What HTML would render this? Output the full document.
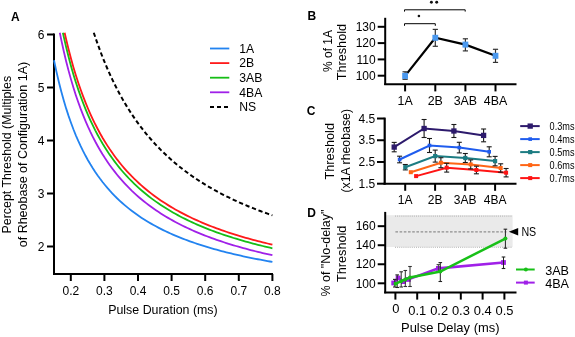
<!DOCTYPE html>
<html><head><meta charset="utf-8"><style>
html,body{margin:0;padding:0;background:#fff;width:575px;height:337px;overflow:hidden}
svg{display:block;will-change:transform}
text{font-family:"Liberation Sans", sans-serif}
</style></head><body>
<svg width="575" height="337" viewBox="0 0 575 337">
<rect width="575" height="337" fill="#fff"/>
<text x="10.90" y="20.60" font-size="12" text-anchor="start" font-weight="bold" fill="#000">A</text>
<line x1="54.00" y1="33.50" x2="54.00" y2="275.00" stroke="#000" stroke-width="2"/>
<line x1="53.00" y1="274.00" x2="273.00" y2="274.00" stroke="#000" stroke-width="2"/>
<line x1="47.00" y1="34.50" x2="54.00" y2="34.50" stroke="#000" stroke-width="2"/>
<text x="44.50" y="38.70" font-size="12" text-anchor="end" font-weight="normal" fill="#000">6</text>
<line x1="47.00" y1="87.50" x2="54.00" y2="87.50" stroke="#000" stroke-width="2"/>
<text x="44.50" y="91.70" font-size="12" text-anchor="end" font-weight="normal" fill="#000">5</text>
<line x1="47.00" y1="140.50" x2="54.00" y2="140.50" stroke="#000" stroke-width="2"/>
<text x="44.50" y="144.70" font-size="12" text-anchor="end" font-weight="normal" fill="#000">4</text>
<line x1="47.00" y1="193.50" x2="54.00" y2="193.50" stroke="#000" stroke-width="2"/>
<text x="44.50" y="197.70" font-size="12" text-anchor="end" font-weight="normal" fill="#000">3</text>
<line x1="47.00" y1="246.50" x2="54.00" y2="246.50" stroke="#000" stroke-width="2"/>
<text x="44.50" y="250.70" font-size="12" text-anchor="end" font-weight="normal" fill="#000">2</text>
<line x1="70.80" y1="274.00" x2="70.80" y2="281.00" stroke="#000" stroke-width="2"/>
<text x="70.80" y="294.60" font-size="12" text-anchor="middle" font-weight="normal" fill="#000">0.2</text>
<line x1="104.40" y1="274.00" x2="104.40" y2="281.00" stroke="#000" stroke-width="2"/>
<text x="104.40" y="294.60" font-size="12" text-anchor="middle" font-weight="normal" fill="#000">0.3</text>
<line x1="138.00" y1="274.00" x2="138.00" y2="281.00" stroke="#000" stroke-width="2"/>
<text x="138.00" y="294.60" font-size="12" text-anchor="middle" font-weight="normal" fill="#000">0.4</text>
<line x1="171.60" y1="274.00" x2="171.60" y2="281.00" stroke="#000" stroke-width="2"/>
<text x="171.60" y="294.60" font-size="12" text-anchor="middle" font-weight="normal" fill="#000">0.5</text>
<line x1="205.20" y1="274.00" x2="205.20" y2="281.00" stroke="#000" stroke-width="2"/>
<text x="205.20" y="294.60" font-size="12" text-anchor="middle" font-weight="normal" fill="#000">0.6</text>
<line x1="238.80" y1="274.00" x2="238.80" y2="281.00" stroke="#000" stroke-width="2"/>
<text x="238.80" y="294.60" font-size="12" text-anchor="middle" font-weight="normal" fill="#000">0.7</text>
<line x1="272.40" y1="274.00" x2="272.40" y2="281.00" stroke="#000" stroke-width="2"/>
<text x="272.40" y="294.60" font-size="12" text-anchor="middle" font-weight="normal" fill="#000">0.8</text>
<text x="108.20" y="314.40" font-size="12" text-anchor="start" font-weight="normal" fill="#000" textLength="109.5" lengthAdjust="spacingAndGlyphs">Pulse Duration (ms)</text>
<text x="11.20" y="154.65" font-size="12" text-anchor="middle" font-weight="normal" fill="#000" transform="rotate(-90 11.20 154.65)" textLength="157.6" lengthAdjust="spacingAndGlyphs">Percept Threshold (Multiples</text>
<text x="26.60" y="154.55" font-size="12" text-anchor="middle" font-weight="normal" fill="#000" transform="rotate(-90 26.60 154.55)" textLength="185.4" lengthAdjust="spacingAndGlyphs">of Rheobase of Configuration 1A)</text>
<path d="M54.00,60.24 L56.43,71.64 L58.85,82.04 L61.28,91.57 L63.71,100.33 L66.13,108.40 L68.56,115.88 L70.99,122.81 L73.41,129.26 L75.84,135.28 L78.27,140.91 L80.69,146.18 L83.12,151.14 L85.55,155.80 L87.97,160.19 L90.40,164.33 L92.83,168.25 L95.25,171.96 L97.68,175.48 L100.11,178.83 L102.53,182.01 L104.96,185.03 L107.39,187.92 L109.81,190.67 L112.24,193.30 L114.67,195.82 L117.09,198.23 L119.52,200.54 L121.95,202.75 L124.37,204.87 L126.80,206.91 L129.23,208.88 L131.65,210.76 L134.08,212.58 L136.51,214.33 L138.93,216.02 L141.36,217.65 L143.79,219.22 L146.21,220.74 L148.64,222.20 L151.07,223.62 L153.49,225.00 L155.92,226.33 L158.35,227.61 L160.77,228.86 L163.20,230.07 L165.63,231.25 L168.05,232.39 L170.48,233.49 L172.91,234.57 L175.33,235.61 L177.76,236.63 L180.19,237.61 L182.61,238.57 L185.04,239.51 L187.47,240.42 L189.89,241.30 L192.32,242.17 L194.75,243.01 L197.17,243.83 L199.60,244.63 L202.03,245.41 L204.45,246.17 L206.88,246.92 L209.31,247.64 L211.73,248.35 L214.16,249.04 L216.59,249.72 L219.01,250.38 L221.44,251.03 L223.87,251.66 L226.29,252.28 L228.72,252.89 L231.15,253.48 L233.57,254.06 L236.00,254.63 L238.43,255.18 L240.85,255.73 L243.28,256.26 L245.71,256.79 L248.13,257.30 L250.56,257.80 L252.99,258.29 L255.41,258.78 L257.84,259.25 L260.27,259.72 L262.69,260.17 L265.12,260.62 L267.55,261.06 L269.97,261.49 L272.40,261.92" fill="none" stroke="#2283F0" stroke-width="1.8"/>
<path d="M59.81,32.70 L61.28,39.89 L63.71,50.96 L66.13,61.17 L68.56,70.61 L70.99,79.38 L73.41,87.54 L75.84,95.15 L78.27,102.26 L80.69,108.93 L83.12,115.19 L85.55,121.08 L87.97,126.63 L90.40,131.87 L92.83,136.82 L95.25,141.51 L97.68,145.96 L100.11,150.19 L102.53,154.21 L104.96,158.04 L107.39,161.68 L109.81,165.16 L112.24,168.49 L114.67,171.67 L117.09,174.71 L119.52,177.63 L121.95,180.43 L124.37,183.11 L126.80,185.69 L129.23,188.17 L131.65,190.56 L134.08,192.85 L136.51,195.07 L138.93,197.20 L141.36,199.26 L143.79,201.25 L146.21,203.16 L148.64,205.02 L151.07,206.81 L153.49,208.55 L155.92,210.23 L158.35,211.86 L160.77,213.44 L163.20,214.97 L165.63,216.45 L168.05,217.89 L170.48,219.29 L172.91,220.65 L175.33,221.97 L177.76,223.25 L180.19,224.50 L182.61,225.71 L185.04,226.89 L187.47,228.04 L189.89,229.16 L192.32,230.26 L194.75,231.32 L197.17,232.36 L199.60,233.37 L202.03,234.35 L204.45,235.32 L206.88,236.26 L209.31,237.17 L211.73,238.07 L214.16,238.95 L216.59,239.80 L219.01,240.64 L221.44,241.46 L223.87,242.26 L226.29,243.04 L228.72,243.80 L231.15,244.55 L233.57,245.29 L236.00,246.00 L238.43,246.71 L240.85,247.40 L243.28,248.07 L245.71,248.73 L248.13,249.38 L250.56,250.02 L252.99,250.64 L255.41,251.25 L257.84,251.85 L260.27,252.44 L262.69,253.01 L265.12,253.58 L267.55,254.14 L269.97,254.68 L272.40,255.22" fill="none" stroke="#A020E8" stroke-width="1.8"/>
<path d="M62.89,32.70 L63.71,36.44 L66.13,47.03 L68.56,56.82 L70.99,65.92 L73.41,74.38 L75.84,82.27 L78.27,89.65 L80.69,96.56 L83.12,103.05 L85.55,109.16 L87.97,114.92 L90.40,120.35 L92.83,125.49 L95.25,130.36 L97.68,134.97 L100.11,139.36 L102.53,143.52 L104.96,147.49 L107.39,151.28 L109.81,154.89 L112.24,158.34 L114.67,161.64 L117.09,164.79 L119.52,167.82 L121.95,170.72 L124.37,173.50 L126.80,176.18 L129.23,178.75 L131.65,181.22 L134.08,183.61 L136.51,185.90 L138.93,188.11 L141.36,190.25 L143.79,192.31 L146.21,194.30 L148.64,196.22 L151.07,198.09 L153.49,199.89 L155.92,201.63 L158.35,203.32 L160.77,204.95 L163.20,206.54 L165.63,208.08 L168.05,209.57 L170.48,211.02 L172.91,212.43 L175.33,213.80 L177.76,215.13 L180.19,216.43 L182.61,217.69 L185.04,218.91 L187.47,220.10 L189.89,221.27 L192.32,222.40 L194.75,223.50 L197.17,224.58 L199.60,225.63 L202.03,226.65 L204.45,227.65 L206.88,228.62 L209.31,229.57 L211.73,230.50 L214.16,231.41 L216.59,232.30 L219.01,233.17 L221.44,234.02 L223.87,234.84 L226.29,235.66 L228.72,236.45 L231.15,237.23 L233.57,237.99 L236.00,238.73 L238.43,239.46 L240.85,240.18 L243.28,240.88 L245.71,241.56 L248.13,242.23 L250.56,242.89 L252.99,243.54 L255.41,244.17 L257.84,244.79 L260.27,245.40 L262.69,246.00 L265.12,246.59 L267.55,247.17 L269.97,247.73 L272.40,248.29" fill="none" stroke="#16BE16" stroke-width="1.8"/>
<path d="M64.64,32.70 L66.13,39.23 L68.56,49.23 L70.99,58.51 L73.41,67.14 L75.84,75.20 L78.27,82.73 L80.69,89.79 L83.12,96.41 L85.55,102.65 L87.97,108.52 L90.40,114.07 L92.83,119.31 L95.25,124.28 L97.68,128.99 L100.11,133.47 L102.53,137.72 L104.96,141.77 L107.39,145.63 L109.81,149.32 L112.24,152.84 L114.67,156.20 L117.09,159.43 L119.52,162.51 L121.95,165.48 L124.37,168.32 L126.80,171.05 L129.23,173.67 L131.65,176.20 L134.08,178.63 L136.51,180.97 L138.93,183.23 L141.36,185.41 L143.79,187.51 L146.21,189.54 L148.64,191.51 L151.07,193.41 L153.49,195.24 L155.92,197.02 L158.35,198.75 L160.77,200.42 L163.20,202.04 L165.63,203.61 L168.05,205.13 L170.48,206.61 L172.91,208.05 L175.33,209.45 L177.76,210.80 L180.19,212.13 L182.61,213.41 L185.04,214.66 L187.47,215.88 L189.89,217.06 L192.32,218.22 L194.75,219.35 L197.17,220.44 L199.60,221.51 L202.03,222.56 L204.45,223.58 L206.88,224.57 L209.31,225.54 L211.73,226.49 L214.16,227.42 L216.59,228.33 L219.01,229.21 L221.44,230.08 L223.87,230.92 L226.29,231.75 L228.72,232.56 L231.15,233.35 L233.57,234.13 L236.00,234.89 L238.43,235.64 L240.85,236.36 L243.28,237.08 L245.71,237.78 L248.13,238.47 L250.56,239.14 L252.99,239.80 L255.41,240.44 L257.84,241.08 L260.27,241.70 L262.69,242.31 L265.12,242.91 L267.55,243.50 L269.97,244.08 L272.40,244.65" fill="none" stroke="#FF1A1A" stroke-width="1.8"/>
<path d="M93.78,32.70 L95.25,37.12 L97.68,44.10 L100.11,50.72 L102.53,57.02 L104.96,63.02 L107.39,68.74 L109.81,74.20 L112.24,79.41 L114.67,84.39 L117.09,89.17 L119.52,93.74 L121.95,98.12 L124.37,102.33 L126.80,106.38 L129.23,110.26 L131.65,114.00 L134.08,117.60 L136.51,121.07 L138.93,124.41 L141.36,127.64 L143.79,130.76 L146.21,133.76 L148.64,136.67 L151.07,139.49 L153.49,142.21 L155.92,144.84 L158.35,147.39 L160.77,149.87 L163.20,152.26 L165.63,154.59 L168.05,156.85 L170.48,159.04 L172.91,161.17 L175.33,163.24 L177.76,165.25 L180.19,167.21 L182.61,169.11 L185.04,170.96 L187.47,172.76 L189.89,174.52 L192.32,176.23 L194.75,177.90 L197.17,179.52 L199.60,181.11 L202.03,182.66 L204.45,184.17 L206.88,185.64 L209.31,187.08 L211.73,188.48 L214.16,189.85 L216.59,191.20 L219.01,192.51 L221.44,193.79 L223.87,195.04 L226.29,196.27 L228.72,197.47 L231.15,198.64 L233.57,199.79 L236.00,200.92 L238.43,202.02 L240.85,203.10 L243.28,204.16 L245.71,205.19 L248.13,206.21 L250.56,207.21 L252.99,208.18 L255.41,209.14 L257.84,210.08 L260.27,211.00 L262.69,211.91 L265.12,212.80 L267.55,213.67 L269.97,214.52 L272.40,215.36" fill="none" stroke="#000" stroke-width="2" stroke-dasharray="4.3 2.7"/>
<line x1="210.00" y1="48.50" x2="229.30" y2="48.50" stroke="#2283F0" stroke-width="1.8"/>
<text x="239.30" y="52.70" font-size="12.2" text-anchor="start" font-weight="normal" fill="#000">1A</text>
<line x1="210.00" y1="63.10" x2="229.30" y2="63.10" stroke="#FF1A1A" stroke-width="1.8"/>
<text x="239.30" y="67.30" font-size="12.2" text-anchor="start" font-weight="normal" fill="#000">2B</text>
<line x1="210.00" y1="77.70" x2="229.30" y2="77.70" stroke="#16BE16" stroke-width="1.8"/>
<text x="239.30" y="81.90" font-size="12.2" text-anchor="start" font-weight="normal" fill="#000">3AB</text>
<line x1="210.00" y1="92.30" x2="229.30" y2="92.30" stroke="#A020E8" stroke-width="1.8"/>
<text x="239.30" y="96.50" font-size="12.2" text-anchor="start" font-weight="normal" fill="#000">4BA</text>
<line x1="210.00" y1="106.90" x2="229.30" y2="106.90" stroke="#000" stroke-width="2" stroke-dasharray="4 3"/>
<text x="239.30" y="111.10" font-size="12.2" text-anchor="start" font-weight="normal" fill="#000">NS</text>
<text x="307.40" y="20.30" font-size="12" text-anchor="start" font-weight="bold" fill="#000">B</text>
<line x1="385.20" y1="17.80" x2="385.20" y2="85.00" stroke="#000" stroke-width="2"/>
<line x1="384.20" y1="84.20" x2="516.50" y2="84.20" stroke="#000" stroke-width="2"/>
<line x1="377.70" y1="26.80" x2="385.20" y2="26.80" stroke="#000" stroke-width="2"/>
<text x="375.70" y="31.00" font-size="12" text-anchor="end" font-weight="normal" fill="#000">130</text>
<line x1="377.70" y1="43.10" x2="385.20" y2="43.10" stroke="#000" stroke-width="2"/>
<text x="375.70" y="47.30" font-size="12" text-anchor="end" font-weight="normal" fill="#000">120</text>
<line x1="377.70" y1="59.40" x2="385.20" y2="59.40" stroke="#000" stroke-width="2"/>
<text x="375.70" y="63.60" font-size="12" text-anchor="end" font-weight="normal" fill="#000">110</text>
<line x1="377.70" y1="75.70" x2="385.20" y2="75.70" stroke="#000" stroke-width="2"/>
<text x="375.70" y="79.90" font-size="12" text-anchor="end" font-weight="normal" fill="#000">100</text>
<line x1="405.10" y1="84.20" x2="405.10" y2="91.40" stroke="#000" stroke-width="2"/>
<text x="405.10" y="104.60" font-size="12.4" text-anchor="middle" font-weight="normal" fill="#000">1A</text>
<line x1="435.30" y1="84.20" x2="435.30" y2="91.40" stroke="#000" stroke-width="2"/>
<text x="435.30" y="104.60" font-size="12.4" text-anchor="middle" font-weight="normal" fill="#000">2B</text>
<line x1="465.40" y1="84.20" x2="465.40" y2="91.40" stroke="#000" stroke-width="2"/>
<text x="465.40" y="104.60" font-size="12.4" text-anchor="middle" font-weight="normal" fill="#000">3AB</text>
<line x1="495.50" y1="84.20" x2="495.50" y2="91.40" stroke="#000" stroke-width="2"/>
<text x="495.50" y="104.60" font-size="12.4" text-anchor="middle" font-weight="normal" fill="#000">4BA</text>
<text x="332.20" y="51.00" font-size="12" text-anchor="middle" font-weight="normal" fill="#000" transform="rotate(-90 332.20 51.00)">% of 1A</text>
<text x="346.30" y="52.10" font-size="12" text-anchor="middle" font-weight="normal" fill="#000" transform="rotate(-90 346.30 52.10)" textLength="56.5" lengthAdjust="spacingAndGlyphs">Threshold</text>
<path d="M404.5,11.6 L404.5,9.8 L465.2,9.8 L465.2,11.6" fill="none" stroke="#000" stroke-width="1"/>
<path d="M404.5,25.8 L404.5,23.7 L435.3,23.7 L435.3,25.8" fill="none" stroke="#000" stroke-width="1"/>
<circle cx="431.4" cy="2.2" r="1.45" fill="#111"/><circle cx="436.7" cy="2.2" r="1.45" fill="#111"/><circle cx="418.9" cy="16" r="1.3" fill="#111"/>
<polyline points="405.1,75.9 435.3,37.8 465.4,44.6 495.5,55.8" fill="none" stroke="#000" stroke-width="2.2"/>
<line x1="405.10" y1="71.80" x2="405.10" y2="79.30" stroke="#333" stroke-width="1.2"/>
<line x1="402.50" y1="71.80" x2="407.70" y2="71.80" stroke="#333" stroke-width="1.2"/>
<line x1="402.50" y1="79.30" x2="407.70" y2="79.30" stroke="#333" stroke-width="1.2"/>
<line x1="435.30" y1="29.40" x2="435.30" y2="46.30" stroke="#333" stroke-width="1.2"/>
<line x1="432.70" y1="29.40" x2="437.90" y2="29.40" stroke="#333" stroke-width="1.2"/>
<line x1="432.70" y1="46.30" x2="437.90" y2="46.30" stroke="#333" stroke-width="1.2"/>
<line x1="465.40" y1="38.80" x2="465.40" y2="50.90" stroke="#333" stroke-width="1.2"/>
<line x1="462.80" y1="38.80" x2="468.00" y2="38.80" stroke="#333" stroke-width="1.2"/>
<line x1="462.80" y1="50.90" x2="468.00" y2="50.90" stroke="#333" stroke-width="1.2"/>
<line x1="495.50" y1="49.30" x2="495.50" y2="62.40" stroke="#333" stroke-width="1.2"/>
<line x1="492.90" y1="49.30" x2="498.10" y2="49.30" stroke="#333" stroke-width="1.2"/>
<line x1="492.90" y1="62.40" x2="498.10" y2="62.40" stroke="#333" stroke-width="1.2"/>
<rect x="402.20" y="72.90" width="5.8" height="6" fill="#4A98EE"/>
<rect x="432.40" y="34.80" width="5.8" height="6" fill="#4A98EE"/>
<rect x="462.50" y="41.60" width="5.8" height="6" fill="#4A98EE"/>
<rect x="492.60" y="52.80" width="5.8" height="6" fill="#4A98EE"/>
<text x="306.70" y="115.30" font-size="12" text-anchor="start" font-weight="bold" fill="#000">C</text>
<line x1="384.70" y1="117.60" x2="384.70" y2="184.70" stroke="#000" stroke-width="2.2"/>
<line x1="383.60" y1="183.70" x2="516.50" y2="183.70" stroke="#000" stroke-width="2"/>
<line x1="377.00" y1="118.51" x2="384.60" y2="118.51" stroke="#000" stroke-width="2"/>
<text x="375.20" y="122.71" font-size="12" text-anchor="end" font-weight="normal" fill="#000">4.5</text>
<line x1="377.00" y1="140.24" x2="384.60" y2="140.24" stroke="#000" stroke-width="2"/>
<text x="375.20" y="144.44" font-size="12" text-anchor="end" font-weight="normal" fill="#000">3.5</text>
<line x1="377.00" y1="161.97" x2="384.60" y2="161.97" stroke="#000" stroke-width="2"/>
<text x="375.20" y="166.17" font-size="12" text-anchor="end" font-weight="normal" fill="#000">2.5</text>
<line x1="377.00" y1="183.70" x2="384.60" y2="183.70" stroke="#000" stroke-width="2"/>
<text x="375.20" y="187.90" font-size="12" text-anchor="end" font-weight="normal" fill="#000">1.5</text>
<line x1="405.20" y1="183.70" x2="405.20" y2="190.80" stroke="#000" stroke-width="2"/>
<text x="405.20" y="203.50" font-size="12" text-anchor="middle" font-weight="normal" fill="#000">1A</text>
<line x1="435.10" y1="183.70" x2="435.10" y2="190.80" stroke="#000" stroke-width="2"/>
<text x="435.10" y="203.50" font-size="12" text-anchor="middle" font-weight="normal" fill="#000">2B</text>
<line x1="465.20" y1="183.70" x2="465.20" y2="190.80" stroke="#000" stroke-width="2"/>
<text x="465.20" y="203.50" font-size="12" text-anchor="middle" font-weight="normal" fill="#000">3AB</text>
<line x1="495.10" y1="183.70" x2="495.10" y2="190.80" stroke="#000" stroke-width="2"/>
<text x="495.10" y="203.50" font-size="12" text-anchor="middle" font-weight="normal" fill="#000">4BA</text>
<text x="334.30" y="151.25" font-size="12" text-anchor="middle" font-weight="normal" fill="#000" transform="rotate(-90 334.30 151.25)" textLength="56.5" lengthAdjust="spacingAndGlyphs">Threshold</text>
<text x="350.00" y="150.75" font-size="12" text-anchor="middle" font-weight="normal" fill="#000" transform="rotate(-90 350.00 150.75)" textLength="83.5" lengthAdjust="spacingAndGlyphs">(x1A rheobase)</text>
<polyline points="394.2,147.1 424.1,128.5 453.9,131 483.6,135.4" fill="none" stroke="#2D1A6C" stroke-width="2"/>
<polyline points="399.6,159.5 429.5,145.5 459.3,147.6 489.2,151.8" fill="none" stroke="#1F5CEE" stroke-width="2"/>
<polyline points="405.3,167.2 435.2,156.1 465.3,158 495.1,161.1" fill="none" stroke="#1C7C82" stroke-width="2"/>
<polyline points="410.8,172.2 440.9,162.7 470.7,164.4 500.7,168" fill="none" stroke="#FF6515" stroke-width="2"/>
<polyline points="416.1,176.1 446.7,167.7 476.4,170 506.1,172.7" fill="none" stroke="#FF1414" stroke-width="2"/>
<line x1="394.20" y1="142.40" x2="394.20" y2="151.80" stroke="#1a1a1a" stroke-width="1.1"/>
<line x1="391.70" y1="142.40" x2="396.70" y2="142.40" stroke="#1a1a1a" stroke-width="1.1"/>
<line x1="391.70" y1="151.80" x2="396.70" y2="151.80" stroke="#1a1a1a" stroke-width="1.1"/>
<line x1="424.10" y1="119.50" x2="424.10" y2="137.50" stroke="#1a1a1a" stroke-width="1.1"/>
<line x1="421.60" y1="119.50" x2="426.60" y2="119.50" stroke="#1a1a1a" stroke-width="1.1"/>
<line x1="421.60" y1="137.50" x2="426.60" y2="137.50" stroke="#1a1a1a" stroke-width="1.1"/>
<line x1="453.90" y1="124.50" x2="453.90" y2="137.50" stroke="#1a1a1a" stroke-width="1.1"/>
<line x1="451.40" y1="124.50" x2="456.40" y2="124.50" stroke="#1a1a1a" stroke-width="1.1"/>
<line x1="451.40" y1="137.50" x2="456.40" y2="137.50" stroke="#1a1a1a" stroke-width="1.1"/>
<line x1="483.60" y1="129.00" x2="483.60" y2="141.80" stroke="#1a1a1a" stroke-width="1.1"/>
<line x1="481.10" y1="129.00" x2="486.10" y2="129.00" stroke="#1a1a1a" stroke-width="1.1"/>
<line x1="481.10" y1="141.80" x2="486.10" y2="141.80" stroke="#1a1a1a" stroke-width="1.1"/>
<rect x="391.55" y="144.45" width="5.3" height="5.3" fill="#2D1A6C"/>
<rect x="421.45" y="125.85" width="5.3" height="5.3" fill="#2D1A6C"/>
<rect x="451.25" y="128.35" width="5.3" height="5.3" fill="#2D1A6C"/>
<rect x="480.95" y="132.75" width="5.3" height="5.3" fill="#2D1A6C"/>
<line x1="399.60" y1="156.20" x2="399.60" y2="162.80" stroke="#1a1a1a" stroke-width="1.1"/>
<line x1="397.10" y1="156.20" x2="402.10" y2="156.20" stroke="#1a1a1a" stroke-width="1.1"/>
<line x1="397.10" y1="162.80" x2="402.10" y2="162.80" stroke="#1a1a1a" stroke-width="1.1"/>
<line x1="429.50" y1="138.50" x2="429.50" y2="152.50" stroke="#1a1a1a" stroke-width="1.1"/>
<line x1="427.00" y1="138.50" x2="432.00" y2="138.50" stroke="#1a1a1a" stroke-width="1.1"/>
<line x1="427.00" y1="152.50" x2="432.00" y2="152.50" stroke="#1a1a1a" stroke-width="1.1"/>
<line x1="459.30" y1="142.30" x2="459.30" y2="152.90" stroke="#1a1a1a" stroke-width="1.1"/>
<line x1="456.80" y1="142.30" x2="461.80" y2="142.30" stroke="#1a1a1a" stroke-width="1.1"/>
<line x1="456.80" y1="152.90" x2="461.80" y2="152.90" stroke="#1a1a1a" stroke-width="1.1"/>
<line x1="489.20" y1="146.80" x2="489.20" y2="156.80" stroke="#1a1a1a" stroke-width="1.1"/>
<line x1="486.70" y1="146.80" x2="491.70" y2="146.80" stroke="#1a1a1a" stroke-width="1.1"/>
<line x1="486.70" y1="156.80" x2="491.70" y2="156.80" stroke="#1a1a1a" stroke-width="1.1"/>
<rect x="397.80" y="157.70" width="3.6" height="3.6" fill="#1F5CEE"/>
<rect x="427.70" y="143.70" width="3.6" height="3.6" fill="#1F5CEE"/>
<rect x="457.50" y="145.80" width="3.6" height="3.6" fill="#1F5CEE"/>
<rect x="487.40" y="150.00" width="3.6" height="3.6" fill="#1F5CEE"/>
<line x1="405.30" y1="164.50" x2="405.30" y2="169.90" stroke="#1a1a1a" stroke-width="1.1"/>
<line x1="402.80" y1="164.50" x2="407.80" y2="164.50" stroke="#1a1a1a" stroke-width="1.1"/>
<line x1="402.80" y1="169.90" x2="407.80" y2="169.90" stroke="#1a1a1a" stroke-width="1.1"/>
<line x1="435.20" y1="150.10" x2="435.20" y2="162.10" stroke="#1a1a1a" stroke-width="1.1"/>
<line x1="432.70" y1="150.10" x2="437.70" y2="150.10" stroke="#1a1a1a" stroke-width="1.1"/>
<line x1="432.70" y1="162.10" x2="437.70" y2="162.10" stroke="#1a1a1a" stroke-width="1.1"/>
<line x1="465.30" y1="153.50" x2="465.30" y2="162.50" stroke="#1a1a1a" stroke-width="1.1"/>
<line x1="462.80" y1="153.50" x2="467.80" y2="153.50" stroke="#1a1a1a" stroke-width="1.1"/>
<line x1="462.80" y1="162.50" x2="467.80" y2="162.50" stroke="#1a1a1a" stroke-width="1.1"/>
<line x1="495.10" y1="156.40" x2="495.10" y2="165.80" stroke="#1a1a1a" stroke-width="1.1"/>
<line x1="492.60" y1="156.40" x2="497.60" y2="156.40" stroke="#1a1a1a" stroke-width="1.1"/>
<line x1="492.60" y1="165.80" x2="497.60" y2="165.80" stroke="#1a1a1a" stroke-width="1.1"/>
<rect x="403.20" y="165.10" width="4.2" height="4.2" fill="#1C7C82"/>
<rect x="433.10" y="154.00" width="4.2" height="4.2" fill="#1C7C82"/>
<rect x="463.20" y="155.90" width="4.2" height="4.2" fill="#1C7C82"/>
<rect x="493.00" y="159.00" width="4.2" height="4.2" fill="#1C7C82"/>
<line x1="440.90" y1="157.70" x2="440.90" y2="167.70" stroke="#1a1a1a" stroke-width="1.1"/>
<line x1="438.40" y1="157.70" x2="443.40" y2="157.70" stroke="#1a1a1a" stroke-width="1.1"/>
<line x1="438.40" y1="167.70" x2="443.40" y2="167.70" stroke="#1a1a1a" stroke-width="1.1"/>
<line x1="470.70" y1="159.90" x2="470.70" y2="168.90" stroke="#1a1a1a" stroke-width="1.1"/>
<line x1="468.20" y1="159.90" x2="473.20" y2="159.90" stroke="#1a1a1a" stroke-width="1.1"/>
<line x1="468.20" y1="168.90" x2="473.20" y2="168.90" stroke="#1a1a1a" stroke-width="1.1"/>
<line x1="500.70" y1="163.80" x2="500.70" y2="172.20" stroke="#1a1a1a" stroke-width="1.1"/>
<line x1="498.20" y1="163.80" x2="503.20" y2="163.80" stroke="#1a1a1a" stroke-width="1.1"/>
<line x1="498.20" y1="172.20" x2="503.20" y2="172.20" stroke="#1a1a1a" stroke-width="1.1"/>
<rect x="408.80" y="170.20" width="4.0" height="4.0" fill="#FF6515"/>
<rect x="438.90" y="160.70" width="4.0" height="4.0" fill="#FF6515"/>
<rect x="468.70" y="162.40" width="4.0" height="4.0" fill="#FF6515"/>
<rect x="498.70" y="166.00" width="4.0" height="4.0" fill="#FF6515"/>
<line x1="446.70" y1="163.30" x2="446.70" y2="172.10" stroke="#1a1a1a" stroke-width="1.1"/>
<line x1="444.20" y1="163.30" x2="449.20" y2="163.30" stroke="#1a1a1a" stroke-width="1.1"/>
<line x1="444.20" y1="172.10" x2="449.20" y2="172.10" stroke="#1a1a1a" stroke-width="1.1"/>
<line x1="476.40" y1="166.20" x2="476.40" y2="173.80" stroke="#1a1a1a" stroke-width="1.1"/>
<line x1="473.90" y1="166.20" x2="478.90" y2="166.20" stroke="#1a1a1a" stroke-width="1.1"/>
<line x1="473.90" y1="173.80" x2="478.90" y2="173.80" stroke="#1a1a1a" stroke-width="1.1"/>
<line x1="506.10" y1="168.50" x2="506.10" y2="176.90" stroke="#1a1a1a" stroke-width="1.1"/>
<line x1="503.60" y1="168.50" x2="508.60" y2="168.50" stroke="#1a1a1a" stroke-width="1.1"/>
<line x1="503.60" y1="176.90" x2="508.60" y2="176.90" stroke="#1a1a1a" stroke-width="1.1"/>
<rect x="414.10" y="174.10" width="4.0" height="4.0" fill="#FF1414"/>
<rect x="444.70" y="165.70" width="4.0" height="4.0" fill="#FF1414"/>
<rect x="474.40" y="168.00" width="4.0" height="4.0" fill="#FF1414"/>
<rect x="504.10" y="170.70" width="4.0" height="4.0" fill="#FF1414"/>
<line x1="520.20" y1="126.10" x2="539.70" y2="126.10" stroke="#2D1A6C" stroke-width="2"/>
<rect x="527.55" y="123.45" width="5.30" height="5.30" fill="#2D1A6C"/>
<text x="549.60" y="129.80" font-size="10.2" text-anchor="start" font-weight="normal" fill="#000" textLength="24.9" lengthAdjust="spacingAndGlyphs">0.3ms</text>
<line x1="520.20" y1="139.10" x2="539.70" y2="139.10" stroke="#1F5CEE" stroke-width="2"/>
<rect x="528.40" y="137.30" width="3.60" height="3.60" fill="#1F5CEE"/>
<text x="549.60" y="142.80" font-size="10.2" text-anchor="start" font-weight="normal" fill="#000" textLength="24.9" lengthAdjust="spacingAndGlyphs">0.4ms</text>
<line x1="520.20" y1="152.10" x2="539.70" y2="152.10" stroke="#1C7C82" stroke-width="2"/>
<rect x="528.10" y="150.00" width="4.20" height="4.20" fill="#1C7C82"/>
<text x="549.60" y="155.80" font-size="10.2" text-anchor="start" font-weight="normal" fill="#000" textLength="24.9" lengthAdjust="spacingAndGlyphs">0.5ms</text>
<line x1="520.20" y1="165.10" x2="539.70" y2="165.10" stroke="#FF6515" stroke-width="2"/>
<rect x="528.20" y="163.10" width="4.00" height="4.00" fill="#FF6515"/>
<text x="549.60" y="168.80" font-size="10.2" text-anchor="start" font-weight="normal" fill="#000" textLength="24.9" lengthAdjust="spacingAndGlyphs">0.6ms</text>
<line x1="520.20" y1="178.10" x2="539.70" y2="178.10" stroke="#FF1414" stroke-width="2"/>
<rect x="528.20" y="176.10" width="4.00" height="4.00" fill="#FF1414"/>
<text x="549.60" y="181.80" font-size="10.2" text-anchor="start" font-weight="normal" fill="#000" textLength="24.9" lengthAdjust="spacingAndGlyphs">0.7ms</text>
<text x="307.20" y="217.10" font-size="12" text-anchor="start" font-weight="bold" fill="#000">D</text>
<rect x="386" y="215.2" width="126.6" height="31.8" fill="#EAEAEA"/>
<line x1="395.00" y1="216.10" x2="512.60" y2="216.10" stroke="#A8A8A8" stroke-width="0.9" stroke-dasharray="1 1.1"/>
<line x1="395.00" y1="247.30" x2="512.60" y2="247.30" stroke="#A8A8A8" stroke-width="0.9" stroke-dasharray="1 1.1"/>
<line x1="395.40" y1="231.90" x2="506.50" y2="231.90" stroke="#8E8E8E" stroke-width="1.1" stroke-dasharray="2.6 1.6"/>
<line x1="385.20" y1="211.90" x2="385.20" y2="293.30" stroke="#000" stroke-width="2"/>
<line x1="384.20" y1="292.50" x2="516.50" y2="292.50" stroke="#000" stroke-width="2"/>
<line x1="377.70" y1="226.18" x2="385.20" y2="226.18" stroke="#000" stroke-width="2"/>
<text x="375.70" y="230.38" font-size="12" text-anchor="end" font-weight="normal" fill="#000">160</text>
<line x1="377.70" y1="245.22" x2="385.20" y2="245.22" stroke="#000" stroke-width="2"/>
<text x="375.70" y="249.42" font-size="12" text-anchor="end" font-weight="normal" fill="#000">140</text>
<line x1="377.70" y1="264.26" x2="385.20" y2="264.26" stroke="#000" stroke-width="2"/>
<text x="375.70" y="268.46" font-size="12" text-anchor="end" font-weight="normal" fill="#000">120</text>
<line x1="377.70" y1="283.30" x2="385.20" y2="283.30" stroke="#000" stroke-width="2"/>
<text x="375.70" y="287.50" font-size="12" text-anchor="end" font-weight="normal" fill="#000">100</text>
<line x1="395.40" y1="292.50" x2="395.40" y2="299.60" stroke="#000" stroke-width="2"/>
<text x="395.80" y="312.60" font-size="12.9" text-anchor="middle" font-weight="normal" fill="#000">0</text>
<line x1="417.20" y1="292.50" x2="417.20" y2="299.60" stroke="#000" stroke-width="2"/>
<text x="417.30" y="314.70" font-size="12.9" text-anchor="middle" font-weight="normal" fill="#000">0.1</text>
<line x1="439.00" y1="292.50" x2="439.00" y2="299.60" stroke="#000" stroke-width="2"/>
<text x="439.10" y="314.70" font-size="12.9" text-anchor="middle" font-weight="normal" fill="#000">0.2</text>
<line x1="460.80" y1="292.50" x2="460.80" y2="299.60" stroke="#000" stroke-width="2"/>
<text x="460.90" y="314.70" font-size="12.9" text-anchor="middle" font-weight="normal" fill="#000">0.3</text>
<line x1="482.60" y1="292.50" x2="482.60" y2="299.60" stroke="#000" stroke-width="2"/>
<text x="482.70" y="314.70" font-size="12.9" text-anchor="middle" font-weight="normal" fill="#000">0.4</text>
<line x1="504.40" y1="292.50" x2="504.40" y2="299.60" stroke="#000" stroke-width="2"/>
<text x="504.50" y="314.70" font-size="12.9" text-anchor="middle" font-weight="normal" fill="#000">0.5</text>
<text x="401.00" y="332.10" font-size="12.8" text-anchor="start" font-weight="normal" fill="#000" textLength="98.5" lengthAdjust="spacingAndGlyphs">Pulse Delay (ms)</text>
<text x="330.00" y="253.05" font-size="12" text-anchor="middle" font-weight="normal" fill="#000" transform="rotate(-90 330.00 253.05)" textLength="86.9" lengthAdjust="spacingAndGlyphs">% of "No-delay"</text>
<text x="345.90" y="253.80" font-size="12" text-anchor="middle" font-weight="normal" fill="#000" transform="rotate(-90 345.90 253.80)" textLength="56.4" lengthAdjust="spacingAndGlyphs">Threshold</text>
<path d="M508.8,231.8 L518.2,228.1 L518.2,235.5 Z" fill="#000"/>
<text x="521.40" y="236.30" font-size="12.2" text-anchor="start" font-weight="normal" fill="#000" textLength="14.8" lengthAdjust="spacingAndGlyphs">NS</text>
<polyline points="393.7,283 398.1,278 403.5,281.6 408.4,279.4 438.4,268.4 503.5,262.5" fill="none" stroke="#A020E8" stroke-width="2.6"/>
<rect x="391.30" y="280.60" width="4.8" height="4.8" fill="#A020E8"/>
<rect x="395.70" y="275.60" width="4.8" height="4.8" fill="#A020E8"/>
<rect x="401.10" y="279.20" width="4.8" height="4.8" fill="#A020E8"/>
<rect x="406.00" y="277.00" width="4.8" height="4.8" fill="#A020E8"/>
<rect x="436.00" y="266.00" width="4.8" height="4.8" fill="#A020E8"/>
<rect x="501.10" y="260.10" width="4.8" height="4.8" fill="#A020E8"/>
<line x1="394.80" y1="279.40" x2="394.80" y2="287.00" stroke="#222" stroke-width="1"/>
<line x1="393.00" y1="279.40" x2="396.60" y2="279.40" stroke="#222" stroke-width="1.1"/>
<line x1="393.00" y1="287.00" x2="396.60" y2="287.00" stroke="#222" stroke-width="1.1"/>
<line x1="397.20" y1="274.90" x2="397.20" y2="287.50" stroke="#222" stroke-width="1"/>
<line x1="395.40" y1="274.90" x2="399.00" y2="274.90" stroke="#222" stroke-width="1.1"/>
<line x1="395.40" y1="287.50" x2="399.00" y2="287.50" stroke="#222" stroke-width="1.1"/>
<line x1="401.20" y1="271.80" x2="401.20" y2="287.00" stroke="#2a2a2a" stroke-width="1"/>
<line x1="399.40" y1="271.80" x2="403.00" y2="271.80" stroke="#2a2a2a" stroke-width="1.1"/>
<line x1="399.40" y1="287.00" x2="403.00" y2="287.00" stroke="#2a2a2a" stroke-width="1.1"/>
<line x1="405.30" y1="270.50" x2="405.30" y2="286.50" stroke="#333" stroke-width="1"/>
<line x1="403.50" y1="270.50" x2="407.10" y2="270.50" stroke="#333" stroke-width="1.1"/>
<line x1="403.50" y1="286.50" x2="407.10" y2="286.50" stroke="#333" stroke-width="1.1"/>
<line x1="410.00" y1="266.50" x2="410.00" y2="286.50" stroke="#333" stroke-width="1"/>
<line x1="408.20" y1="266.50" x2="411.80" y2="266.50" stroke="#333" stroke-width="1.1"/>
<line x1="408.20" y1="286.50" x2="411.80" y2="286.50" stroke="#333" stroke-width="1.1"/>
<line x1="440.30" y1="262.60" x2="440.30" y2="281.50" stroke="#222" stroke-width="1"/>
<line x1="438.50" y1="262.60" x2="442.10" y2="262.60" stroke="#222" stroke-width="1.1"/>
<line x1="438.50" y1="281.50" x2="442.10" y2="281.50" stroke="#222" stroke-width="1.1"/>
<line x1="505.40" y1="229.20" x2="505.40" y2="248.20" stroke="#222" stroke-width="1"/>
<line x1="503.60" y1="229.20" x2="507.20" y2="229.20" stroke="#222" stroke-width="1.1"/>
<line x1="503.60" y1="248.20" x2="507.20" y2="248.20" stroke="#222" stroke-width="1.1"/>
<line x1="438.40" y1="264.60" x2="438.40" y2="272.00" stroke="#444" stroke-width="1"/>
<line x1="436.60" y1="264.60" x2="440.20" y2="264.60" stroke="#444" stroke-width="1.1"/>
<line x1="436.60" y1="272.00" x2="440.20" y2="272.00" stroke="#444" stroke-width="1.1"/>
<line x1="503.50" y1="257.00" x2="503.50" y2="268.50" stroke="#222" stroke-width="1"/>
<line x1="501.70" y1="257.00" x2="505.30" y2="257.00" stroke="#222" stroke-width="1.1"/>
<line x1="501.70" y1="268.50" x2="505.30" y2="268.50" stroke="#222" stroke-width="1.1"/>
<polyline points="395.5,283.8 401.2,281.2 405.3,279.5 410,277.4 440.3,271.5 505.4,238.6" fill="none" stroke="#18C018" stroke-width="2.5"/>
<circle cx="395.50" cy="283.80" r="2" fill="#18C018"/>
<circle cx="401.20" cy="281.20" r="2" fill="#18C018"/>
<circle cx="405.30" cy="279.50" r="2" fill="#18C018"/>
<circle cx="410.00" cy="277.40" r="2" fill="#18C018"/>
<circle cx="440.30" cy="271.50" r="2" fill="#18C018"/>
<circle cx="505.40" cy="238.60" r="2" fill="#18C018"/>
<line x1="516.00" y1="269.50" x2="534.70" y2="269.50" stroke="#18C018" stroke-width="2"/>
<circle cx="525.9" cy="269.5" r="2" fill="#18C018"/>
<line x1="516.00" y1="282.60" x2="534.70" y2="282.60" stroke="#A020E8" stroke-width="2"/>
<rect x="523.9" y="280.6" width="4" height="4" fill="#A020E8"/>
<text x="545.20" y="274.80" font-size="12.6" text-anchor="start" font-weight="normal" fill="#000">3AB</text>
<text x="545.20" y="287.70" font-size="12.6" text-anchor="start" font-weight="normal" fill="#000">4BA</text>
</svg>
</body></html>
